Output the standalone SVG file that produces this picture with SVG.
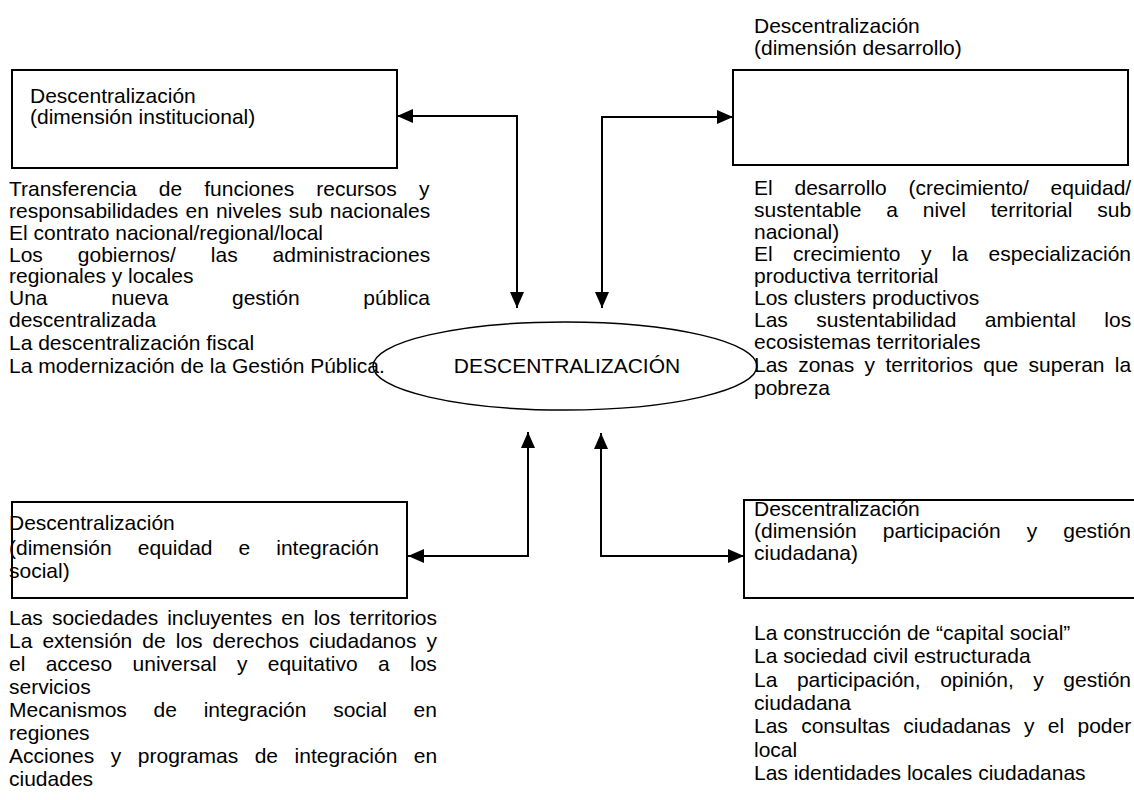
<svg xmlns="http://www.w3.org/2000/svg" width="1134" height="800" viewBox="0 0 1134 800">
<style>
text{font-family:"Liberation Sans",Arial,sans-serif;font-size:21px;fill:#000}
.box{fill:none;stroke:#000;stroke-width:2}
.conn{fill:none;stroke:#000;stroke-width:2}
</style>
<defs>
<marker id="ah" viewBox="0 0 16 14" refX="16" refY="7" markerWidth="16" markerHeight="14" markerUnits="userSpaceOnUse" orient="auto-start-reverse">
<path d="M0,0 L16,7 L0,14 Z" fill="#000"/>
</marker>
</defs>
<rect width="1134" height="800" fill="#fff"/>

<g id="connectors">
<path class="conn" d="M397,116 H517 V308" marker-start="url(#ah)" marker-end="url(#ah)"/>
<path class="conn" d="M602,308 V117 H733" marker-start="url(#ah)" marker-end="url(#ah)"/>
<path class="conn" d="M528,432 V556 H408" marker-start="url(#ah)" marker-end="url(#ah)"/>
<path class="conn" d="M601,433 V556 H744" marker-start="url(#ah)" marker-end="url(#ah)"/>
</g>

<g id="center">
<ellipse cx="565" cy="366" rx="192" ry="44" fill="none" stroke="#000" stroke-width="1.5"/>
<text x="567" y="373" text-anchor="middle">DESCENTRALIZACIÓN</text>
</g>

<g id="institucional">
<rect class="box" x="12" y="70" width="385" height="98"/>
<text x="30" y="103">Descentralización</text>
<text x="30" y="124">(dimensión institucional)</text>
<text x="9" y="196" word-spacing="16.3">Transferencia de funciones recursos y</text>
<text x="9" y="218" word-spacing="1.4">responsabilidades en niveles sub nacionales</text>
<text x="9" y="240">El contrato nacional/regional/local</text>
<text x="9" y="262" word-spacing="29.1">Los gobiernos/ las administraciones</text>
<text x="9" y="283">regionales y locales</text>
<text x="9" y="305" word-spacing="57.8">Una nueva gestión pública</text>
<text x="9" y="327">descentralizada</text>
<text x="9" y="350">La descentralización fiscal</text>
<text x="9" y="373">La modernización de la Gestión Pública.</text>
</g>

<g id="desarrollo">
<text x="754" y="33">Descentralización</text>
<text x="754" y="55">(dimensión desarrollo)</text>
<rect class="box" x="733" y="70" width="395" height="95"/>
<text x="754" y="195" word-spacing="16">El desarrollo (crecimiento/ equidad/</text>
<text x="754" y="217" word-spacing="19">sustentable a nivel territorial sub</text>
<text x="754" y="239">nacional)</text>
<text x="754" y="261" word-spacing="14.6">El crecimiento y la especialización</text>
<text x="754" y="283">productiva territorial</text>
<text x="754" y="305">Los clusters productivos</text>
<text x="754" y="327" word-spacing="22.6">Las sustentabilidad ambiental los</text>
<text x="754" y="349">ecosistemas territoriales</text>
<text x="754" y="372" word-spacing="4.5">Las zonas y territorios que superan la</text>
<text x="754" y="395">pobreza</text>
</g>

<g id="equidad">
<rect class="box" x="12" y="502" width="395" height="96"/>
<text x="9" y="530">Descentralización</text>
<text x="9" y="555" word-spacing="20.2">(dimensión equidad e integración</text>
<text x="9" y="578">social)</text>
<text x="9" y="625" word-spacing="3.2">Las sociedades incluyentes en los territorios</text>
<text x="9" y="648" word-spacing="4.2">La extensión de los derechos ciudadanos y</text>
<text x="9" y="671" word-spacing="14.5">el acceso universal y equitativo a los</text>
<text x="9" y="694">servicios</text>
<text x="9" y="717" word-spacing="20.9">Mecanismos de integración social en</text>
<text x="9" y="740">regiones</text>
<text x="9" y="763" word-spacing="10.7">Acciones y programas de integración en</text>
<text x="9" y="786">ciudades</text>
</g>

<g id="participacion">
<rect class="box" x="744" y="500" width="400" height="98"/>
<text x="754" y="516">Descentralización</text>
<text x="754" y="538" word-spacing="20.2">(dimensión participación y gestión</text>
<text x="754" y="560">ciudadana)</text>
<text x="754" y="640">La construcción de “capital social”</text>
<text x="754" y="663">La sociedad civil estructurada</text>
<text x="754" y="687" word-spacing="13.7">La participación, opinión, y gestión</text>
<text x="754" y="710">ciudadana</text>
<text x="754" y="733" word-spacing="7.5">Las consultas ciudadanas y el poder</text>
<text x="754" y="757">local</text>
<text x="754" y="780">Las identidades locales ciudadanas</text>
</g>
</svg>
